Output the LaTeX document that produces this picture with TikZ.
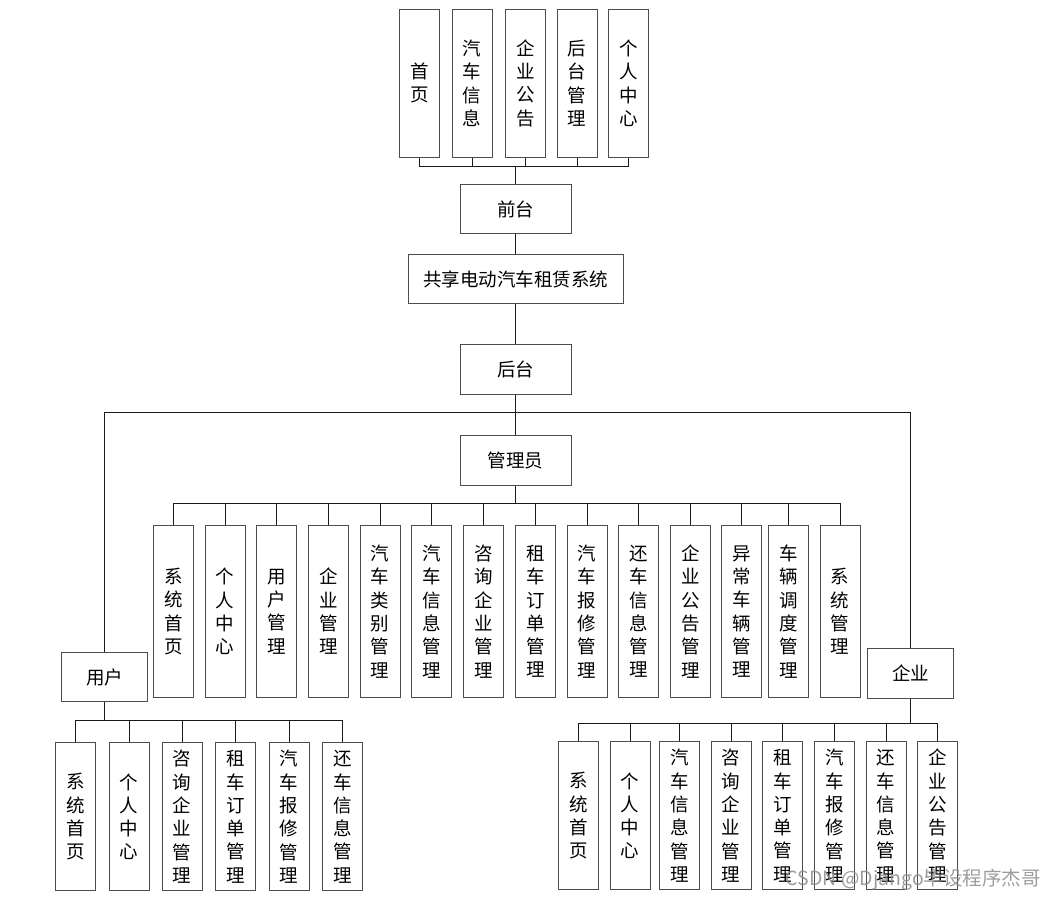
\documentclass[tikz,border=0pt]{standalone}
\usepackage{fontspec}
\newfontfamily\cjk{Noto Sans CJK SC}
\begin{document}
\begin{tikzpicture}[x=1pt,y=-1pt,
  box/.style={draw=black!70,line width=0.9pt,inner sep=0pt,align=center,fill=white,
    font=\cjk\fontsize{18.5}{23.3}\selectfont},
  vbox/.style={box,minimum width=40pt,minimum height=148pt},
  mbox/.style={box,minimum width=40pt,minimum height=172pt},
  hbox/.style={box,minimum width=111pt,minimum height=49.5pt},
  sbox/.style={box,minimum width=86pt,minimum height=49.5pt},
  link/.style={draw=black!90,line width=0.9pt}]
\fill[white] (0,0) rectangle (1056,900);
\useasboundingbox (0,0) rectangle (1056,900);

% top level
\node[vbox] (t1) at (419.3,83.2) {首\\页};
\node[vbox] (t2) at (472.2,83.2) {汽\\车\\信\\息};
\node[vbox] (t3) at (525.3,83.2) {企\\业\\公\\告};
\node[vbox] (t4) at (577.2,83.2) {后\\台\\管\\理};
\node[vbox] (t5) at (628.7,83.2) {个\\人\\中\\心};
\node[hbox] (qt) at (515.5,209) {前台};
\node[box,minimum width=215pt,minimum height=49pt] (sys) at (515.5,279.2) {共享电动汽车租赁系统};
\node[hbox] (ht) at (515.5,369.5) {后台};
\node[hbox] (gly) at (515.5,460.5) {管理员};
\node[sbox] (yh) at (104.5,677) {用户};
\node[sbox] (qy) at (910.5,673.3) {企业};

% admin children
\node[mbox] (m1) at (173.5,611.5) {系\\统\\首\\页};
\node[mbox] (m2) at (225.2,611.5) {个\\人\\中\\心};
\node[mbox] (m3) at (276.9,611.5) {用\\户\\管\\理};
\node[mbox] (m4) at (328.5,611.5) {企\\业\\管\\理};
\node[mbox] (m5) at (380.2,611.5) {汽\\车\\类\\别\\管\\理};
\node[mbox] (m6) at (431.9,611.5) {汽\\车\\信\\息\\管\\理};
\node[mbox] (m7) at (483.6,611.5) {咨\\询\\企\\业\\管\\理};
\node[mbox] (m8) at (535.3,611.5) {租\\车\\订\\单\\管\\理};
\node[mbox] (m9) at (587,611.5) {汽\\车\\报\\修\\管\\理};
\node[mbox] (m10) at (638.3,611.5) {还\\车\\信\\息\\管\\理};
\node[mbox] (m11) at (690.3,611.5) {企\\业\\公\\告\\管\\理};
\node[mbox] (m12) at (741.9,611.5) {异\\常\\车\\辆\\管\\理};
\node[mbox] (m13) at (788.9,611.5) {车\\辆\\调\\度\\管\\理};
\node[mbox] (m14) at (840.2,611.5) {系\\统\\管\\理};

% user children
\node[vbox] (u1) at (75.3,816.8) {系\\统\\首\\页};
\node[vbox] (u2) at (129,816.8) {个\\人\\中\\心};
\node[vbox] (u3) at (182.2,816.8) {咨\\询\\企\\业\\管\\理};
\node[vbox] (u4) at (235.7,816.8) {租\\车\\订\\单\\管\\理};
\node[vbox] (u5) at (289,816.8) {汽\\车\\报\\修\\管\\理};
\node[vbox] (u6) at (342.3,816.8) {还\\车\\信\\息\\管\\理};

% enterprise children
\node[vbox] (e1) at (578.3,815.8) {系\\统\\首\\页};
\node[vbox] (e2) at (630,815.8) {个\\人\\中\\心};
\node[vbox] (e3) at (679.3,815.8) {汽\\车\\信\\息\\管\\理};
\node[vbox] (e4) at (731,815.8) {咨\\询\\企\\业\\管\\理};
\node[vbox] (e5) at (782.7,815.8) {租\\车\\订\\单\\管\\理};
\node[vbox] (e6) at (834.3,815.8) {汽\\车\\报\\修\\管\\理};
\node[vbox] (e7) at (886,815.8) {还\\车\\信\\息\\管\\理};
\node[vbox] (e8) at (937.7,815.8) {企\\业\\公\\告\\管\\理};

% bus coordinates
\coordinate (bt) at (515.5,166.7);
\coordinate (bw) at (515.5,412.7);
\coordinate (bm) at (515.5,503);
\coordinate (bu) at (104.5,720.7);
\coordinate (be) at (910.5,723.3);

% connectors
\foreach \n in {t1,t2,t3,t4,t5} \draw[link] (\n.south) |- (bt) -- (qt.north);
\draw[link] (qt.south) -- (sys.north);
\draw[link] (sys.south) -- (ht.north);
\draw[link] (ht.south) -- (bw) -- (gly.north);
\draw[link] (yh.north) |- (bw);
\draw[link] (qy.north) |- (bw);
\foreach \n in {m1,m2,m3,m4,m5,m6,m7,m8,m9,m10,m11,m12,m13,m14} \draw[link] (\n.north) |- (bm) -- (gly.south);
\foreach \n in {u1,u2,u3,u4,u5,u6} \draw[link] (\n.north) |- (bu) -- (yh.south);
\foreach \n in {e1,e2,e3,e4,e5,e6,e7,e8} \draw[link] (\n.north) |- (be) -- (qy.south);

% watermark
\node[anchor=east,inner sep=0pt,text=black!45,opacity=0.85,font=\cjk\fontsize{19.5}{22}\selectfont] (wm) at (1041,880) {CSDN @Django毕设程序杰哥};
\end{tikzpicture}
\end{document}
